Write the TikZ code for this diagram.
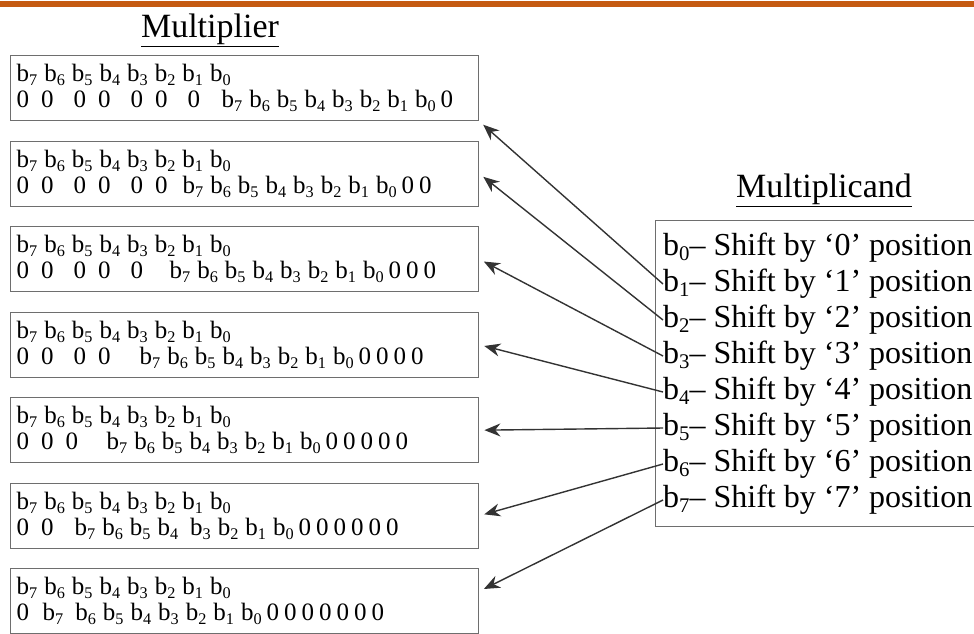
\documentclass[tikz,border=0pt]{standalone}
\usepackage{fontspec}
\setmainfont{Liberation Serif}
\usetikzlibrary{arrows.meta}
\definecolor{barorange}{RGB}{197,90,17}
\definecolor{boxgray}{RGB}{110,110,110}
\newcommand{\bit}[1]{b\raisebox{-0.35ex}{\scalebox{0.65}{#1}}}
\newcommand{\bgap}{\hspace{7pt}}
\newcommand{\bitrow}{\bit7\bgap\bit6\bgap\bit5\bgap\bit4\bgap\bit3\bgap\bit2\bgap\bit1\bgap\bit0}
\newcommand{\zin}{0\hspace{12pt}}
\newcommand{\zgap}{0\hspace{20pt}}
\newcommand{\tz}{\hspace{5pt}0}
\newcommand{\lead}[2]{\makebox[#1][l]{#2}}
\tikzset{
  multbox/.style={draw=boxgray, line width=1.4pt, anchor=north west, text width=456pt,
    minimum height=65pt, inner xsep=6pt, inner ysep=0pt, align=left,
    font=\fontsize{25}{26}\selectfont},
  shiftline/.style={anchor=west, inner sep=0pt, font=\fontsize{32}{36}\selectfont},
  heading/.style={font=\fontsize{34}{36}\selectfont},
  shiftarrow/.style={-{Stealth[length=16pt,width=13pt]}, line width=1.4pt,
    draw=black!80, shorten >=5pt}
}
\begin{document}
\begin{tikzpicture}[x=1pt,y=-1pt,every node/.style={text=black}]
    \useasboundingbox (0,0) rectangle (974,633);
    \clip (0,0) rectangle (974,633);
    \fill[barorange] (0,1) rectangle (974,7);
    % multiplier side
    \node[heading] (mtitle) at (210,30) {\underline{Multiplier}};
    \node[multbox] (m1) at (10,55) {\bitrow\\ \lead{205pt}{\zin\zgap\zin\zgap\zin\zgap0}\bitrow\tz};
    \node[multbox] (m2) at (10,140.5) {\bitrow\\ \lead{166pt}{\zin\zgap\zin\zgap\zin0}\bitrow\tz\tz};
    \node[multbox] (m3) at (10,226) {\bitrow\\ \lead{153pt}{\zin\zgap\zin\zgap0}\bitrow\tz\tz\tz};
    \node[multbox] (m4) at (10,311.5) {\bitrow\\ \lead{123pt}{\zin\zgap\zin0}\bitrow\tz\tz\tz\tz};
    \node[multbox] (m5) at (10,397) {\bitrow\\ \lead{90pt}{\zin\zin0}\bitrow\tz\tz\tz\tz\tz};
    \node[multbox] (m6) at (10,482.5) {\bitrow\\ \lead{58pt}{\zin0}\bit7\bgap\bit6\bgap\bit5\bgap\bit4\hspace{12pt}\bit3\bgap\bit2\bgap\bit1\bgap\bit0\tz\tz\tz\tz\tz\tz};
    \node[multbox] (m7) at (10,568) {\bitrow\\ \lead{26pt}{0}\bit7\hspace{12pt}\bit6\bgap\bit5\bgap\bit4\bgap\bit3\bgap\bit2\bgap\bit1\bgap\bit0\tz\tz\tz\tz\tz\tz\tz};
    % multiplicand side
    \node[heading] (ctitle) at (824,190) {\underline{Multiplicand}};
    \node[draw=boxgray, line width=1.4pt, anchor=north west, minimum width=340pt,
      minimum height=306pt, inner sep=0pt] (mcand) at (655,220) {};
    \foreach \k in {0,...,7} {
        \node[shiftline] (s\k) at (663,{248+36*\k}) {\bit{\k}– Shift by ‘\k’ position};
    }
    % shifted copies
    \draw[shiftarrow] (s1.west) -- (m1.south east);
    \foreach \k in {2,...,6} {
        \draw[shiftarrow] (s\k.west) -- (m\k.east);
    }
    \draw[shiftarrow] (s7.west) -- ([yshift=10pt]m7.east);
\end{tikzpicture}
\end{document}
